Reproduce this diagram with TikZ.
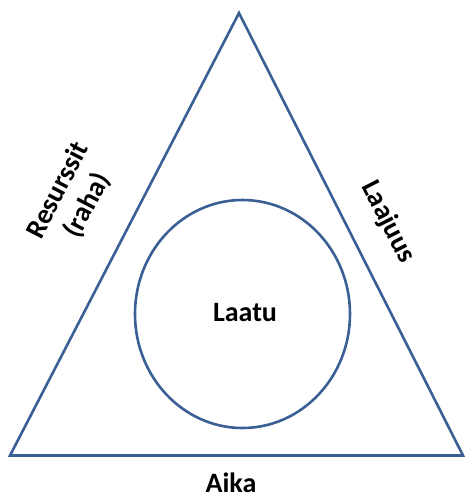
\documentclass[tikz,border=0pt]{standalone}
\usepackage{fontspec}
\setmainfont{Carlito}
\usetikzlibrary{shapes.geometric}
\definecolor{edge}{HTML}{3A5F95}
\begin{document}
\begin{tikzpicture}[x=1pt,y=-1pt,
  lbl/.style={font=\bfseries\fontsize{28}{33}\selectfont, text=black, align=center, inner sep=0pt},
  shapeline/.style={draw=edge, line width=2.6pt}]
\useasboundingbox (0,0) rectangle (464,496);
\coordinate (top) at (239,13);
\coordinate (bl) at (10,455.5);
\coordinate (br) at (463,455.5);
\draw[shapeline, line join=miter] (top) -- (br) -- (bl) -- cycle;
\node[shapeline, ellipse, minimum width=215pt, minimum height=228pt, inner sep=0pt] (quality) at (242.5,314) {};
\node[lbl] (laatu) at (245,313) {Laatu};
\node[lbl, rotate=62.6] (resurssit) at (73,198) {Resurssit\\(raha)};
\node[lbl, rotate=-62.8] (laajuus) at (388,222) {Laajuus};
\node[lbl] (aika) at (231,482.5) {Aika};
\end{tikzpicture}
\end{document}
